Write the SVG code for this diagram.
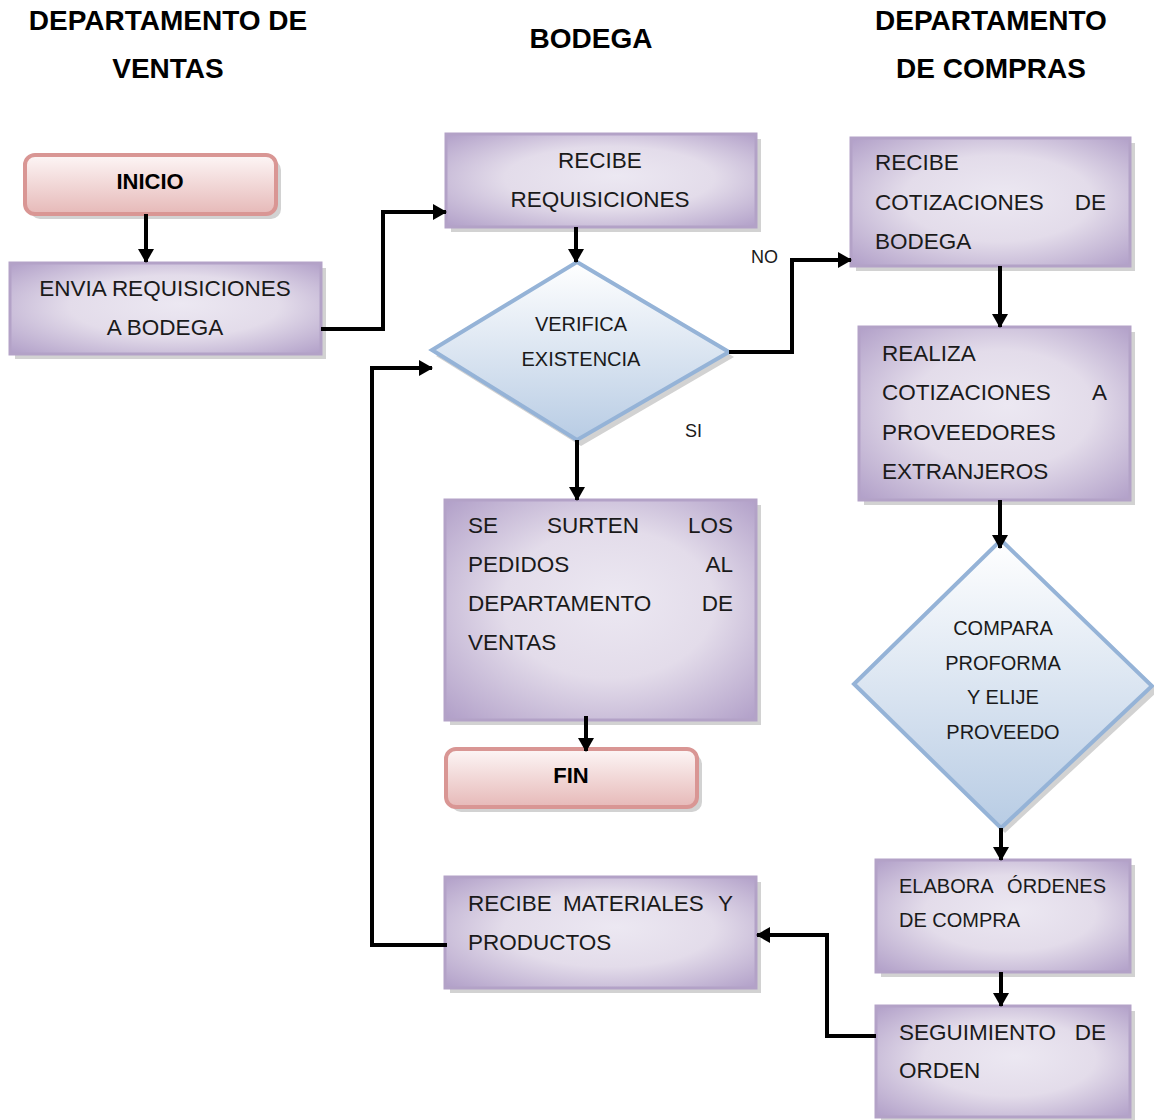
<svg xmlns="http://www.w3.org/2000/svg" width="1154" height="1120" viewBox="0 0 1154 1120">
<defs>
<radialGradient id="gPurple" cx="50%" cy="50%" r="75%" fx="55%" fy="45%">
<stop offset="0" stop-color="#ece8f2"/>
<stop offset="0.45" stop-color="#e3dcea"/>
<stop offset="1" stop-color="#ab98c4"/>
</radialGradient>
<linearGradient id="gBlue" x1="0" y1="0" x2="0" y2="1">
<stop offset="0" stop-color="#ffffff"/>
<stop offset="1" stop-color="#b8cce4"/>
</linearGradient>
<linearGradient id="gPink" x1="0" y1="0" x2="0" y2="1">
<stop offset="0" stop-color="#fdf6f6"/>
<stop offset="1" stop-color="#e6b9b8"/>
</linearGradient>
<marker id="arr" markerUnits="userSpaceOnUse" markerWidth="14" markerHeight="16" refX="13" refY="8" orient="auto">
<path d="M0,0 L14,8 L0,16 z" fill="#000"/>
</marker>
</defs>
<style>
.hdr{font-family:"Liberation Sans",Arial,sans-serif;font-size:28px;font-weight:bold;fill:#000;text-anchor:middle}
.t{font-family:"Liberation Sans",Arial,sans-serif;font-size:22.5px;fill:#1a1a1a}
.ts{font-family:"Liberation Sans",Arial,sans-serif;font-size:20px;fill:#1a1a1a}
.b{font-family:"Liberation Sans",Arial,sans-serif;font-size:22px;font-weight:bold;fill:#000;text-anchor:middle}
.m{text-anchor:middle}
.e{text-anchor:end}
.box{fill:url(#gPurple);stroke:#b3a2c7;stroke-width:3}
.dia{fill:url(#gBlue);stroke:#95b3d7;stroke-width:4;stroke-linejoin:miter}
.term{fill:url(#gPink);stroke:#d99694;stroke-width:4}
.sh{fill:#d2d2d2}
.ca{fill:none;stroke:#000;stroke-width:4;marker-end:url(#arr)}
</style>

<g id="headers">
<text class="hdr" x="168" y="30">DEPARTAMENTO DE</text>
<text class="hdr" x="168" y="78">VENTAS</text>
<text class="hdr" x="591" y="48">BODEGA</text>
<text class="hdr" x="991" y="30">DEPARTAMENTO</text>
<text class="hdr" x="991" y="78">DE COMPRAS</text>
</g>

<g id="inicio">
<rect class="sh" x="30" y="160" width="251" height="59" rx="10"/>
<rect class="term" x="25" y="155" width="251" height="59" rx="10"/>
<text class="b" x="150" y="189">INICIO</text>
</g>

<g id="envia">
<rect class="sh" x="15" y="268" width="311" height="91"/>
<rect class="box" x="10" y="263" width="311" height="91"/>
<text class="t m" x="165" y="296">ENVIA REQUISICIONES</text>
<text class="t m" x="165" y="335">A BODEGA</text>
</g>

<g id="recibe-req">
<rect class="sh" x="451" y="139" width="310" height="93"/>
<rect class="box" x="446" y="134" width="310" height="93"/>
<text class="t m" x="600" y="168">RECIBE</text>
<text class="t m" x="600" y="207">REQUISICIONES</text>
</g>

<g id="verifica">
<polygon class="sh" points="581,267 734,357 581,446 436,356"/>
<polygon class="dia" points="577,262 729,352 577,440 432,350"/>
<text class="ts m" x="581" y="331">VERIFICA</text>
<text class="ts m" x="581" y="366">EXISTENCIA</text>
</g>

<g id="surten">
<rect class="sh" x="450" y="505" width="311" height="220"/>
<rect class="box" x="445" y="500" width="311" height="220"/>
<text class="t" x="468" y="533">SE</text>
<text class="t m" x="593" y="533">SURTEN</text>
<text class="t e" x="733" y="533">LOS</text>
<text class="t" x="468" y="572">PEDIDOS</text>
<text class="t e" x="733" y="572">AL</text>
<text class="t" x="468" y="611">DEPARTAMENTO</text>
<text class="t e" x="733" y="611">DE</text>
<text class="t" x="468" y="650">VENTAS</text>
</g>

<g id="fin">
<rect class="sh" x="451" y="754" width="251" height="58" rx="10"/>
<rect class="term" x="446" y="749" width="251" height="58" rx="10"/>
<text class="b" x="571" y="783">FIN</text>
</g>

<g id="recibe-mat">
<rect class="sh" x="450" y="882" width="311" height="111"/>
<rect class="box" x="445" y="877" width="311" height="111"/>
<text class="t" x="468" y="911">RECIBE</text>
<text class="t" x="563" y="911">MATERIALES</text>
<text class="t e" x="733" y="911">Y</text>
<text class="t" x="468" y="950">PRODUCTOS</text>
</g>

<g id="recibe-cot">
<rect class="sh" x="856" y="143" width="279" height="128"/>
<rect class="box" x="851" y="138" width="279" height="128"/>
<text class="t" x="875" y="170">RECIBE</text>
<text class="t" x="875" y="210">COTIZACIONES</text>
<text class="t e" x="1106" y="210">DE</text>
<text class="t" x="875" y="249">BODEGA</text>
</g>

<g id="realiza">
<rect class="sh" x="864" y="332" width="271" height="173"/>
<rect class="box" x="859" y="327" width="271" height="173"/>
<text class="t" x="882" y="361">REALIZA</text>
<text class="t" x="882" y="400">COTIZACIONES</text>
<text class="t e" x="1107" y="400">A</text>
<text class="t" x="882" y="440">PROVEEDORES</text>
<text class="t" x="882" y="479">EXTRANJEROS</text>
</g>

<g id="compara">
<polygon class="sh" points="1005,545 1158,691 1005,833 858,689"/>
<polygon class="dia" points="1001,540 1152,686 1001,828 854,684"/>
<text class="ts m" x="1003" y="635">COMPARA</text>
<text class="ts m" x="1003" y="670">PROFORMA</text>
<text class="ts m" x="1003" y="704">Y ELIJE</text>
<text class="ts m" x="1003" y="739">PROVEEDO</text>
</g>

<g id="elabora">
<rect class="sh" x="881" y="865" width="254" height="112"/>
<rect class="box" x="876" y="860" width="254" height="112"/>
<text class="ts" x="899" y="893">ELABORA</text>
<text class="ts e" x="1106" y="893">ÓRDENES</text>
<text class="ts" x="899" y="927">DE COMPRA</text>
</g>

<g id="seguimiento">
<rect class="sh" x="881" y="1011" width="254" height="111"/>
<rect class="box" x="876" y="1006" width="254" height="111"/>
<text class="t" x="899" y="1040">SEGUIMIENTO</text>
<text class="t e" x="1106" y="1040">DE</text>
<text class="t" x="899" y="1078">ORDEN</text>
</g>

<g id="connectors">
<line class="ca" x1="146" y1="214" x2="146" y2="262"/>
<polyline class="ca" points="321,329 383,329 383,212 446,212"/>
<line class="ca" x1="576" y1="227" x2="576" y2="262"/>
<polyline class="ca" points="729,352 792,352 792,260 851,260"/>
<line class="ca" x1="577" y1="440" x2="577" y2="500"/>
<line class="ca" x1="586" y1="716" x2="586" y2="751"/>
<line class="ca" x1="1000" y1="266" x2="1000" y2="327"/>
<line class="ca" x1="1000" y1="500" x2="1000" y2="548"/>
<line class="ca" x1="1001" y1="828" x2="1001" y2="860"/>
<line class="ca" x1="1001" y1="972" x2="1001" y2="1006"/>
<polyline class="ca" points="876,1036 827,1036 827,935 757,935"/>
<polyline class="ca" points="447,945 372,945 372,368 432,368"/>
<text class="ts" x="751" y="263" style="font-size:18px">NO</text>
<text class="ts" x="685" y="437" style="font-size:18px">SI</text>
</g>
</svg>
